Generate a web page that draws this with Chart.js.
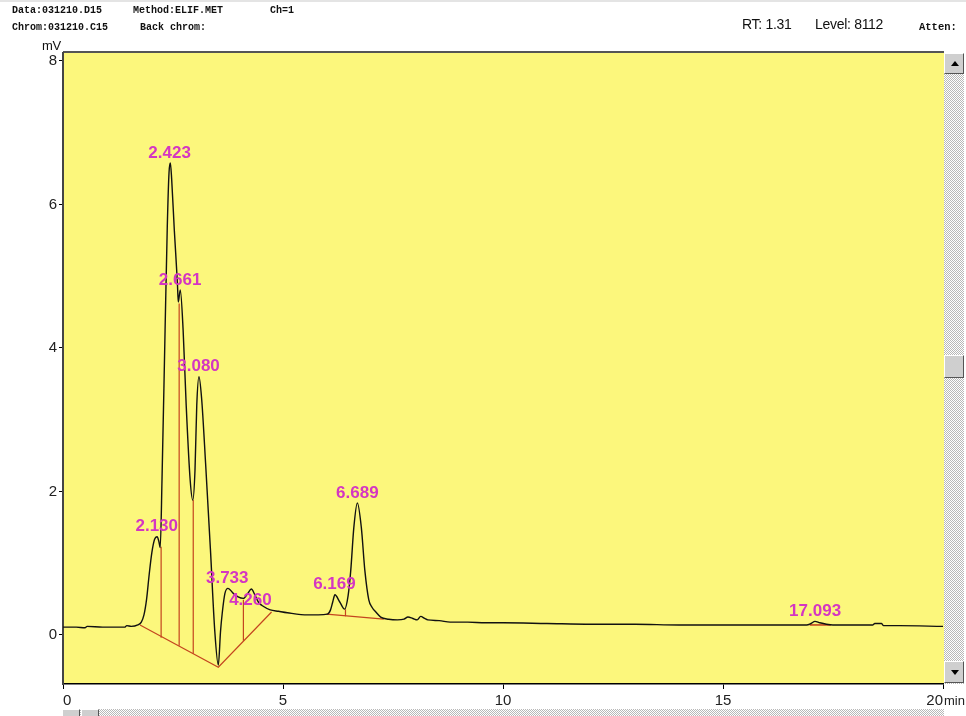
<!DOCTYPE html>
<html>
<head>
<meta charset="utf-8">
<script src="https://cdn.jsdelivr.net/npm/chart.js@4/dist/chart.umd.min.js"></script>
<style>
  body { margin: 0; background: #fff; }
  #wrap { position: relative; width: 966px; height: 716px; overflow: hidden; border-top: 2px solid #e4e4e4; box-sizing: border-box; }
  #wrap canvas { position: absolute; left: 0; top: -2px; }
  .hdr { position: absolute; font: bold 10px "Liberation Mono", monospace; color: #111; white-space: nowrap; }
  .big { position: absolute; font: 14px "Liberation Sans", Arial, sans-serif; color: #111; white-space: nowrap; letter-spacing: -0.3px; }
  .dither { background: repeating-conic-gradient(#b8b8b8 0 25%, #ffffff 0 50%) 0 0 / 2px 2px; }
  .btn { position: absolute; background: #cfcfcf; border-top: 1px solid #fff; border-left: 1px solid #fff; border-right: 1px solid #555; border-bottom: 1px solid #555; box-sizing: border-box; }
  .tri-up { position: absolute; left: 6px; top: 7px; width: 0; height: 0; border-left: 4px solid transparent; border-right: 4px solid transparent; border-bottom: 5px solid #000; }
  .tri-dn { position: absolute; left: 6px; top: 8px; width: 0; height: 0; border-left: 4px solid transparent; border-right: 4px solid transparent; border-top: 5px solid #000; }
</style>
</head>
<body>
<div id="wrap">
  <canvas id="chrom" width="966" height="716"></canvas>

  <div class="hdr" style="left:12px; top:3px;">Data:031210.D15</div>
  <div class="hdr" style="left:133px; top:3px;">Method:ELIF.MET</div>
  <div class="hdr" style="left:270px; top:3px;">Ch=1</div>
  <div class="hdr" style="left:12px; top:20px;">Chrom:031210.C15</div>
  <div class="hdr" style="left:140px; top:20px;">Back chrom:</div>
  <div class="big" style="left:742px; top:14px;">RT: 1.31</div>
  <div class="big" style="left:815px; top:14px;">Level: 8112</div>
  <div class="hdr" style="left:919px; top:19px; font-size:10.5px;">Atten:</div>
  <div class="big" style="left:42px; top:36px; font-size:13px;">mV</div>

  <div class="dither" style="position:absolute; left:944px; top:51px; width:20px; height:631px;"></div>
  <div class="btn" style="left:944px; top:51px; width:20px; height:21px;"><div class="tri-up"></div></div>
  <div class="btn" style="left:944px; top:353px; width:20px; height:23px;"></div>
  <div class="btn" style="left:944px; top:659px; width:20px; height:22px;"><div class="tri-dn"></div></div>

  <div class="dither" style="position:absolute; left:62px; top:707px; width:882px; height:9px;"></div>
  <div class="btn" style="left:62px; top:707px; width:18px; height:12px;"></div>
  <div class="btn" style="left:81px; top:707px; width:18px; height:12px;"></div>
</div>

<script>
// chromatogram trace (min, mV)
const traceTime = [
  0.00, 0.30, 0.50, 0.55, 0.90, 1.20, 1.40, 1.45, 1.55, 1.70, 1.78, 1.84, 1.90, 1.96, 2.02, 2.08, 2.14, 2.18, 2.21,
  2.25, 2.32, 2.37, 2.41, 2.44, 2.47, 2.53, 2.60, 2.62, 2.665, 2.73, 2.80, 2.89, 2.95, 3.00, 3.04, 3.09,
  3.15, 3.24, 3.35, 3.45, 3.53, 3.58, 3.62, 3.68, 3.75, 3.87, 3.98, 4.10, 4.20, 4.28, 4.36, 4.44, 4.55,
  4.71, 4.90, 5.10, 5.56, 5.80, 6.01, 6.08, 6.13, 6.18, 6.29, 6.40, 6.48, 6.54, 6.61, 6.69, 6.78, 6.86,
  6.95, 7.03, 7.11, 7.22, 7.40, 7.60, 7.75, 7.84, 7.95, 8.05, 8.13, 8.22, 8.29, 8.55, 8.80, 9.20, 9.60,
  10.0, 11.0, 12.0, 13.0, 14.0, 15.0, 16.0, 16.9, 17.0, 17.09, 17.2, 17.35, 17.5, 18.0, 18.4, 18.45,
  18.6, 18.65, 19.0, 20.0
];
const traceSignal = [
  0.11, 0.11, 0.10, 0.12, 0.11, 0.11, 0.11, 0.13, 0.12, 0.14, 0.18, 0.28, 0.50, 0.85, 1.15, 1.33, 1.37, 1.30, 1.22,
  2.16, 4.25, 5.69, 6.45, 6.58, 6.35, 5.64, 4.91, 4.64, 4.81, 4.25, 3.20, 2.16, 1.88, 2.30, 3.20, 3.60,
  3.30, 2.40, 1.20, 0.05, -0.42, 0.05, 0.31, 0.58, 0.65, 0.58, 0.53, 0.51, 0.58, 0.64, 0.56, 0.46, 0.40,
  0.35, 0.33, 0.31, 0.28, 0.28, 0.29, 0.35, 0.46, 0.56, 0.46, 0.36, 0.55, 0.90, 1.50, 1.84, 1.50, 0.90,
  0.49, 0.38, 0.32, 0.25, 0.22, 0.21, 0.22, 0.25, 0.23, 0.21, 0.26, 0.23, 0.21, 0.20, 0.18, 0.18, 0.17,
  0.17, 0.16, 0.15, 0.15, 0.14, 0.14, 0.14, 0.14, 0.16, 0.19, 0.17, 0.15, 0.14, 0.14, 0.14, 0.16,
  0.16, 0.13, 0.13, 0.12
];

// peak apexes and their labels
const peakTimes = [2.130, 2.423, 2.661, 3.080, 3.733, 4.260, 6.169, 6.689, 17.093];
const peakHeights = [1.37, 6.58, 4.81, 3.60, 0.65, 0.64, 0.56, 1.84, 0.19];
const peakLabels = ["2.130", "2.423", "2.661", "3.080", "3.733", "4.260", "6.169", "6.689", "17.093"];

// integration baselines
const base1Time = [1.75, 3.53, 4.74];
const base1Signal = [0.14, -0.45, 0.32];
const base2Time = [5.99, 7.29];
const base2Signal = [0.29, 0.22];
const base3Time = [16.97, 17.45];
const base3Signal = [0.14, 0.14];

// drop lines between merged peaks
const dropTimes = [2.23, 2.64, 2.96, 4.10, 6.42];
const dropTops = [1.23, 4.62, 1.88, 0.49, 0.36];
const dropBottoms = [-0.04, -0.15, -0.26, -0.08, 0.26];

const xTicks = [0, 5, 10, 15, 20];
const yTicks = [0, 2, 4, 6, 8];

const traceColor = "#111111";
const intColor = "#c4451f";
const labelColor = "#d436c2";
const plotBg = "#fcf77c";

function pairs(xs, ys) {
  return xs.map((x, i) => ({ x: x, y: ys[i] }));
}

const dropData = [];
dropTimes.forEach((t, i) => {
  dropData.push({ x: t, y: dropBottoms[i] });
  dropData.push({ x: t, y: dropTops[i] });
  dropData.push({ x: t, y: null });
});

const plotArea = {
  id: "plotArea",
  beforeDraw(chart) {
    const { ctx, chartArea: a } = chart;
    ctx.save();
    ctx.fillStyle = plotBg;
    ctx.fillRect(a.left, a.top, a.right - a.left + 1, a.bottom - a.top);
    ctx.strokeStyle = "#555";
    ctx.lineWidth = 2;
    ctx.beginPath();
    ctx.moveTo(a.left, a.top - 1);
    ctx.lineTo(a.right + 1, a.top - 1);
    ctx.stroke();
    ctx.restore();
  },
  afterDraw(chart) {
    // x tick labels: first flush left, last flush right followed by unit
    const { ctx } = chart;
    const xs = chart.scales.x;
    ctx.save();
    ctx.fillStyle = "#222";
    ctx.font = "15px 'Liberation Sans', Arial, sans-serif";
    ctx.textBaseline = "middle";
    const y = xs.bottom - 17 + 2;
    xs.ticks.forEach((tk, i) => {
      const px = xs.getPixelForValue(tk.value);
      ctx.textAlign = i === 0 ? "left" : (i === xs.ticks.length - 1 ? "right" : "center");
      ctx.fillText(String(tk.value), px, y);
      if (i === xs.ticks.length - 1) {
        ctx.textAlign = "left";
        ctx.font = "13px 'Liberation Sans', Arial, sans-serif";
        ctx.fillText("min", px + 1, y);
      }
    });
    ctx.restore();
  }
};

const peakLabelPlugin = {
  id: "peakLabels",
  afterDatasetsDraw(chart) {
    const { ctx } = chart;
    const xs = chart.scales.x, ys = chart.scales.y;
    ctx.save();
    ctx.font = "bold 17px 'Liberation Sans', Arial, sans-serif";
    ctx.fillStyle = labelColor;
    ctx.textAlign = "center";
    ctx.textBaseline = "middle";
    const placed = [];
    const h = 16;
    peakTimes.forEach((t, i) => {
      const w = ctx.measureText(peakLabels[i]).width;
      const cx = xs.getPixelForValue(t);
      let cy = ys.getPixelForValue(peakHeights[i]) - 10;
      placed.forEach((b) => {
        const overlap = cx - w / 2 < b.r && cx + w / 2 > b.l && cy - h / 2 < b.b && cy + h / 2 > b.t;
        if (overlap) cy = b.b + h / 2 + 6;
      });
      ctx.fillText(peakLabels[i], cx, cy);
      placed.push({ l: cx - w / 2, r: cx + w / 2, t: cy - h / 2, b: cy + h / 2 });
    });
    ctx.restore();
  }
};

new Chart(document.getElementById("chrom"), {
  type: "line",
  data: {
    datasets: [
      {
        label: "trace",
        data: pairs(traceTime, traceSignal),
        borderColor: traceColor,
        borderWidth: 1.4,
        pointRadius: 0,
        cubicInterpolationMode: "monotone"
      },
      {
        label: "drops",
        data: dropData,
        borderColor: intColor,
        borderWidth: 1.2,
        pointRadius: 0,
        spanGaps: false
      },
      {
        label: "base1",
        data: pairs(base1Time, base1Signal),
        borderColor: intColor,
        borderWidth: 1.2,
        pointRadius: 0
      },
      {
        label: "base2",
        data: pairs(base2Time, base2Signal),
        borderColor: intColor,
        borderWidth: 1.2,
        pointRadius: 0
      },
      {
        label: "base3",
        data: pairs(base3Time, base3Signal),
        borderColor: intColor,
        borderWidth: 1.6,
        pointRadius: 0
      }
    ]
  },
  options: {
    responsive: false,
    animation: false,
    devicePixelRatio: 1,
    layout: { padding: { top: 53, right: 23, left: 0, bottom: 0 } },
    plugins: {
      legend: { display: false },
      tooltip: { enabled: false }
    },
    scales: {
      x: {
        type: "linear",
        min: 0,
        max: 20,
        afterBuildTicks: (s) => { s.ticks = xTicks.map((v) => ({ value: v })); },
        afterFit: (s) => { s.height = 32; },
        ticks: { display: false },
        grid: { drawOnChartArea: false, drawTicks: true, tickLength: 5, tickColor: "#000" },
        border: { display: true, color: "#000", width: 1.5 }
      },
      y: {
        type: "linear",
        min: -0.683,
        max: 8.111,
        afterBuildTicks: (s) => { s.ticks = yTicks.map((v) => ({ value: v })); },
        afterFit: (s) => { s.width = 63; },
        ticks: {
          color: "#222",
          padding: 2,
          font: { family: "'Liberation Sans', Arial, sans-serif", size: 15 }
        },
        grid: { drawOnChartArea: false, drawTicks: true, tickLength: 4, tickColor: "#000" },
        border: { display: true, color: "#444", width: 2 }
      }
    }
  },
  plugins: [plotArea, peakLabelPlugin]
});
</script>
</body>
</html>
